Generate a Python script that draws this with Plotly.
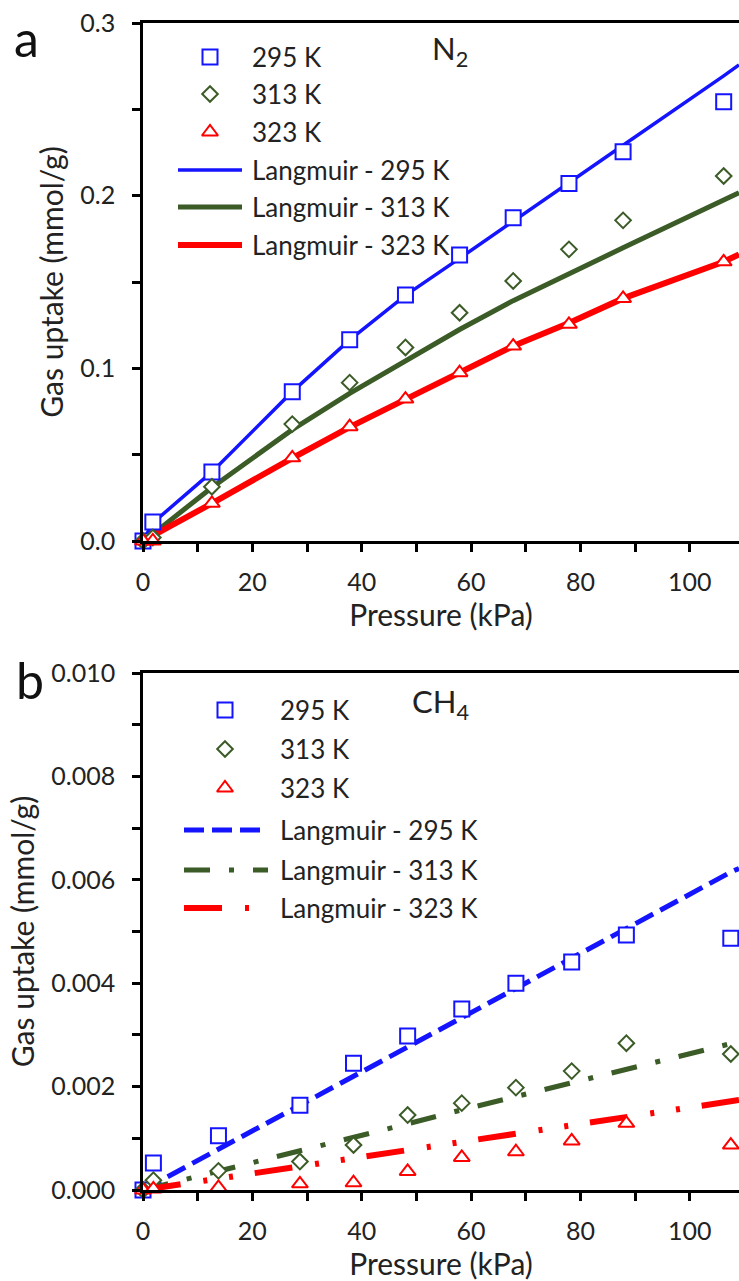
import plotly.graph_objects as go

# ---------------- data ----------------
# Panel a : N2
P_N2 = [0, 1.8, 12.6, 27.3, 37.8, 48.0, 57.9, 67.7, 77.9, 87.8, 106.2]
N2_295 = [0, 0.011, 0.040, 0.0865, 0.1165, 0.1425, 0.1656, 0.1872, 0.2071, 0.2254, 0.2544]
N2_313 = [0, 0.002, 0.0314, 0.0677, 0.0917, 0.1121, 0.1322, 0.1506, 0.1689, 0.1857, 0.2114]
N2_323 = [0, 0.0, 0.0218, 0.0482, 0.0662, 0.0822, 0.0975, 0.1129, 0.1255, 0.1405, 0.1617]

P_N2_FIT = [0, 1.8, 12.6, 27.3, 37.8, 48.0, 57.9, 67.7, 77.9, 87.8, 106.2, 109.0]
N2_FIT_295 = [0, 0.0105, 0.040, 0.0865, 0.1165, 0.1423, 0.1637, 0.1853, 0.2075, 0.2292, 0.2694, 0.2757]
N2_FIT_313 = [0, 0.004, 0.031, 0.0645, 0.0855, 0.1045, 0.1225, 0.1392, 0.1550, 0.1698, 0.1975, 0.2017]
N2_FIT_323 = [0, 0.003, 0.0218, 0.048, 0.066, 0.082, 0.0975, 0.1129, 0.1262, 0.1405, 0.1617, 0.166]

# Panel b : CH4
P_CH4 = [0, 1.9, 13.8, 28.7, 38.5, 48.4, 58.3, 68.2, 78.4, 88.4, 107.5]
CH4_295 = [0, 0.00052, 0.00105, 0.00164, 0.00245, 0.00298, 0.00350, 0.00400, 0.00441, 0.00493, 0.00487]
CH4_313 = [0, 0.00019, 0.00037, 0.00055, 0.00087, 0.00145, 0.00168, 0.00198, 0.00230, 0.00284, 0.00263]
CH4_323 = [0, 0.00002, 0.00005, 0.00012, 0.00014, 0.00036, 0.00063, 0.00074, 0.00095, 0.00129, 0.00087]

P_CH4_FIT = [0, 1.9, 13.8, 28.7, 38.5, 48.4, 58.3, 68.2, 78.4, 88.4, 107.5, 109.0]
CH4_FIT_295 = [0, 0.00011, 0.00079, 0.00164, 0.00220, 0.00277, 0.00333, 0.00390, 0.00448, 0.00505, 0.00615, 0.00622]
CH4_FIT_313 = [0, 0.00005, 0.00036, 0.00075, 0.00100, 0.00128, 0.00155, 0.00181, 0.00208, 0.00234, 0.00282, 0.00287]
CH4_FIT_323 = [0, 0.00003, 0.00022, 0.00045, 0.00061, 0.00077, 0.00093, 0.00109, 0.00125, 0.00141, 0.00171, 0.00174]

SERIES_LABELS = ["295 K", "313 K", "323 K"]
FIT_LABELS = ["Langmuir - 295 K", "Langmuir - 313 K", "Langmuir - 323 K"]
GAS_LABELS = ["N<sub>2</sub>", "CH<sub>4</sub>"]
PANEL_LABELS = ["a", "b"]
X_TITLE = "Pressure (kPa)"
Y_TITLE = "Gas uptake (mmol/g)"
X_TICKS = [0, 20, 40, 60, 80, 100]
N2_Y_TICKS = [0.0, 0.1, 0.2, 0.3]
CH4_Y_TICKS = [0.0, 0.002, 0.004, 0.006, 0.008, 0.010]

# ---------------- styling ----------------
FONT = "Lato"
TXT = "#222222"
BLUE = "#1414FF"
GREEN = "#3B5B27"
RED = "#FF0000"
COLORS = [BLUE, GREEN, RED]
SYMBOLS = ["square", "diamond", "triangle-up"]
MSIZE = [15, 12, 14]
N2_LW = [3.5, 5, 6]
CH4_LW = [5, 5, 6]
CH4_DASH = ["20px,8px", "26px,19px,5px,19px", "38px,23px,4px,22px,4px,22px"]

W, H = 739, 1281
ML, MR, MT, MB = 143, 0, 23, 91
PH = H - MT - MB
A_BOTTOM_PX, B_TOP_PX = 541, 673
dom_a = [(H - MB - A_BOTTOM_PX) / PH, 1.0]
dom_b = [0.0, (H - MB - B_TOP_PX) / PH]
XMAX = 109.0

fig = go.Figure()

panels = [
    dict(xa="x", ya="y", lx="x3", ly="y3", P=P_N2, data=[N2_295, N2_313, N2_323],
         Pf=P_N2_FIT, fits=[N2_FIT_295, N2_FIT_313, N2_FIT_323], lw=N2_LW,
         dash=["solid"] * 3),
    dict(xa="x2", ya="y2", lx="x4", ly="y4", P=P_CH4, data=[CH4_295, CH4_313, CH4_323],
         Pf=P_CH4_FIT, fits=[CH4_FIT_295, CH4_FIT_313, CH4_FIT_323], lw=CH4_LW,
         dash=CH4_DASH),
]

for pn in panels:
    for i in range(3):
        fig.add_trace(go.Scatter(
            x=pn["Pf"], y=pn["fits"][i], mode="lines", xaxis=pn["xa"], yaxis=pn["ya"],
            line=dict(color=COLORS[i], width=pn["lw"][i], dash=pn["dash"][i]),
            showlegend=False, hoverinfo="skip"))
    for i in range(3):
        fig.add_trace(go.Scatter(
            x=pn["P"], y=pn["data"][i], mode="markers", xaxis=pn["xa"], yaxis=pn["ya"],
            marker=dict(symbol=SYMBOLS[i], size=MSIZE[i], color="white",
                        line=dict(color=COLORS[i], width=2)),
            cliponaxis=False, showlegend=False, hoverinfo="skip"))

# ---------------- hand-made legends on pixel-unit overlay axes ----------------
legend_geo = [
    dict(mx=210, tx=250, rows=[57, 94, 132, 170, 207, 245], l0=178, l1=242),
    dict(mx=225, tx=278, rows=[710, 749, 788, 830, 870, 908], l0=184, l1=268),
]
annotations = []
for k, (pn, g) in enumerate(zip(panels, legend_geo)):
    for i in range(3):
        fig.add_trace(go.Scatter(
            x=[g["mx"]], y=[g["rows"][i]], mode="markers", xaxis=pn["lx"], yaxis=pn["ly"],
            marker=dict(symbol=SYMBOLS[i], size=MSIZE[i], color="white",
                        line=dict(color=COLORS[i], width=2)),
            showlegend=False, hoverinfo="skip"))
        annotations.append(dict(x=g["tx"], y=g["rows"][i], xref=pn["lx"], yref=pn["ly"],
                                text=SERIES_LABELS[i], showarrow=False, xanchor="left",
                                yanchor="middle", font=dict(family=FONT, size=26, color=TXT)))
    for i in range(3):
        y = g["rows"][3 + i]
        fig.add_trace(go.Scatter(
            x=[g["l0"], g["l1"]], y=[y, y], mode="lines", xaxis=pn["lx"], yaxis=pn["ly"],
            line=dict(color=COLORS[i], width=pn["lw"][i], dash=pn["dash"][i]),
            showlegend=False, hoverinfo="skip"))
        annotations.append(dict(x=g["tx"], y=y, xref=pn["lx"], yref=pn["ly"],
                                text=FIT_LABELS[i], showarrow=False, xanchor="left",
                                yanchor="middle", font=dict(family=FONT, size=26, color=TXT)))

# gas labels
annotations.append(dict(x=450, y=50, xref="x3", yref="y3", text=GAS_LABELS[0], showarrow=False,
                        xanchor="center", yanchor="middle", font=dict(family=FONT, size=31, color=TXT)))
annotations.append(dict(x=440, y=703, xref="x4", yref="y4", text=GAS_LABELS[1], showarrow=False,
                        xanchor="center", yanchor="middle", font=dict(family=FONT, size=31, color=TXT)))
# panel letters
for lab, (px, py) in zip(PANEL_LABELS, [(26, 38), (30, 680)]):
    annotations.append(dict(x=(px - ML) / (W - ML - MR), y=(H - MB - py) / PH, xref="paper", yref="paper",
                            text=lab, showarrow=False, xanchor="center", yanchor="middle",
                            font=dict(family=FONT, size=50, color="#111111")))

axis_common = dict(showgrid=False, zeroline=False, showline=True, linecolor="black", linewidth=2.5,
                   ticks="outside", ticklen=8, tickwidth=2.5, tickcolor="black",
                   tickfont=dict(family=FONT, size=25, color=TXT))

def xaxis(anchor):
    return dict(axis_common, anchor=anchor, domain=[0, 1], range=[0, XMAX], mirror=True,
                tickvals=X_TICKS, ticktext=[str(v) for v in X_TICKS], ticklabelstandoff=9,
                minor=dict(ticks="outside", ticklen=8, tickwidth=2.5, tickcolor="black", dtick=10,
                           tick0=0, showgrid=False),
                title=dict(text=X_TITLE, font=dict(family=FONT, size=30, color=TXT), standoff=3))

def yaxis(anchor, dom, rng, ticks, fmt, minor_dtick):
    return dict(axis_common, anchor=anchor, domain=dom, range=rng, mirror=False,
                tickvals=ticks, ticktext=[fmt.format(v) for v in ticks], ticklabelstandoff=12,
                minor=dict(ticks="outside", ticklen=8, tickwidth=2.5, tickcolor="black",
                           dtick=minor_dtick, tick0=0, showgrid=False),
                title=dict(text=Y_TITLE, font=dict(family=FONT, size=30, color=TXT), standoff=8))

hidden = dict(visible=False, showgrid=False, zeroline=False, fixedrange=True)

fig.update_layout(
    width=W, height=H, margin=dict(l=ML, r=MR, t=MT, b=MB, autoexpand=False),
    paper_bgcolor="white", plot_bgcolor="white", showlegend=False,
    font=dict(family=FONT, color=TXT),
    xaxis=xaxis("y"),
    yaxis=yaxis("x", dom_a, [0, 0.3], N2_Y_TICKS, "{:.1f}", 0.05),
    xaxis2=xaxis("y2"),
    yaxis2=yaxis("x2", dom_b, [0, 0.010], CH4_Y_TICKS, "{:.3f}", 0.001),
    xaxis3=dict(hidden, overlaying="x", anchor="y3", range=[ML, W - MR]),
    yaxis3=dict(hidden, overlaying="y", anchor="x3", range=[A_BOTTOM_PX, MT]),
    xaxis4=dict(hidden, overlaying="x2", anchor="y4", range=[ML, W - MR]),
    yaxis4=dict(hidden, overlaying="y2", anchor="x4", range=[H - MB, B_TOP_PX]),
    annotations=annotations,
)

fig.write_html("out.html", config=dict(displayModeBar=False),
               post_script="document.body.style.margin='0';document.body.style.overflow='hidden';")
